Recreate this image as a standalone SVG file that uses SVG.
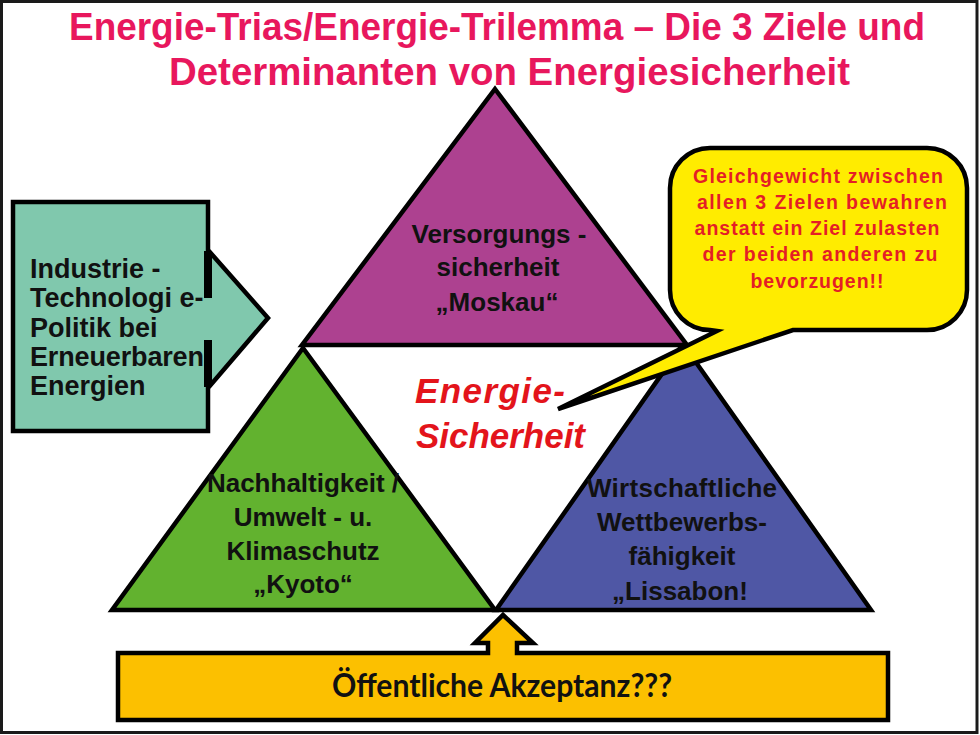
<svg xmlns="http://www.w3.org/2000/svg" width="980" height="735" viewBox="0 0 980 735">
<style>
.ol{stroke:#000;stroke-width:4.5;stroke-linejoin:miter}
.lbl{font-family:"Liberation Sans",Arial,sans-serif;font-weight:bold;font-size:26px;fill:#111;text-anchor:middle}
.title{font-family:"Liberation Sans",Arial,sans-serif;font-weight:bold;font-size:38px;fill:#E8175D}
.call{font-family:"Liberation Sans",Arial,sans-serif;font-weight:bold;font-size:19.5px;fill:#E41E26;text-anchor:middle}
</style>
<rect x="0" y="0" width="980" height="735" fill="#fff"/>
<rect x="1.5" y="1.5" width="975.5" height="731" fill="none" stroke="#1a1a1a" stroke-width="3"/>

<g id="title">
<text class="title" x="69" y="40" textLength="856" lengthAdjust="spacingAndGlyphs">Energie-Trias/Energie-Trilemma – Die 3 Ziele und</text>
<text class="title" x="169" y="85" textLength="681" lengthAdjust="spacingAndGlyphs">Determinanten von Energiesicherheit</text>
</g>

<g id="industrie">
<polygon class="ol" fill="#80C8AD" points="13,202 208,202 208,250 268,318 208,388 208,431 13,431"/>
<line x1="208" y1="251" x2="208" y2="298" stroke="#000" stroke-width="8"/>
<line x1="208" y1="340" x2="208" y2="387" stroke="#000" stroke-width="8"/>
<g class="lbl" style="text-anchor:start;font-size:27px">
<text x="30" y="278">Industrie -</text>
<text x="30" y="307">Technologi e-</text>
<text x="30" y="337">Politik bei</text>
<text x="30" y="366" textLength="174">Erneuerbaren</text>
<text x="30" y="395">Energien</text>
</g>
</g>

<g id="nachhaltigkeit">
<polygon class="ol" fill="#62B22F" points="303,348 495,610 112,610"/>
<text class="lbl" x="303" y="492">Nachhaltigkeit /</text>
<text class="lbl" x="303" y="526">Umwelt - u.</text>
<text class="lbl" x="303" y="560">Klimaschutz</text>
<text class="lbl" x="303" y="593">„Kyoto“</text>
</g>

<g id="wirtschaft">
<polygon class="ol" fill="#4F57A5" points="683,344 871,610 496,610"/>
<text class="lbl" x="682" y="497" textLength="190">Wirtschaftliche</text>
<text class="lbl" x="682" y="531">Wettbewerbs-</text>
<text class="lbl" x="682" y="565">fähigkeit</text>
<text class="lbl" x="680" y="600">„Lissabon!</text>
</g>

<g id="versorgung">
<polygon class="ol" fill="#AD4190" points="495,89 687,345 302,345"/>
<text class="lbl" x="499" y="243">Versorgungs -</text>
<text class="lbl" x="498" y="276">sicherheit</text>
<text class="lbl" x="497" y="311">„Moskau“</text>
</g>

<g id="energiesicherheit">
<text x="415" y="403" textLength="150" style="font-family:'Liberation Sans',Arial,sans-serif;font-weight:bold;font-style:italic;font-size:35px;fill:#E3141B">Energie-</text>
<text x="416" y="448" textLength="169" style="font-family:'Liberation Sans',Arial,sans-serif;font-weight:bold;font-style:italic;font-size:35px;fill:#E3141B">Sicherheit</text>
</g>

<g id="callout">
<path class="ol" fill="#FFEC00" d="M710,148 H927 A40,40 0 0 1 967,188 V290 A40,40 0 0 1 927,330 H793 L558,409 L717,331 L710,330 A40,40 0 0 1 670,290 V188 A40,40 0 0 1 710,148 Z"/>
<text class="call" x="818" y="183" textLength="250">Gleichgewicht zwischen</text>
<text class="call" x="822" y="209" textLength="250">allen 3 Zielen bewahren</text>
<text class="call" x="817" y="235" textLength="245">anstatt ein Ziel zulasten</text>
<text class="call" x="820" y="261" textLength="235">der beiden anderen zu</text>
<text class="call" x="817" y="288" textLength="133">bevorzugen!!</text>
</g>

<g id="akzeptanz">
<polygon class="ol" fill="#FCC000" points="118,653 488,653 488,643 475,643 503,615 533,643 517,643 517,653 888,653 888,720 118,720"/>
<text x="502" y="697" text-anchor="middle" textLength="340" lengthAdjust="spacingAndGlyphs" style="font-family:Lato,'Open Sans',sans-serif;font-weight:bold;font-size:32px;fill:#111">Öffentliche Akzeptanz???</text>
</g>
</svg>
